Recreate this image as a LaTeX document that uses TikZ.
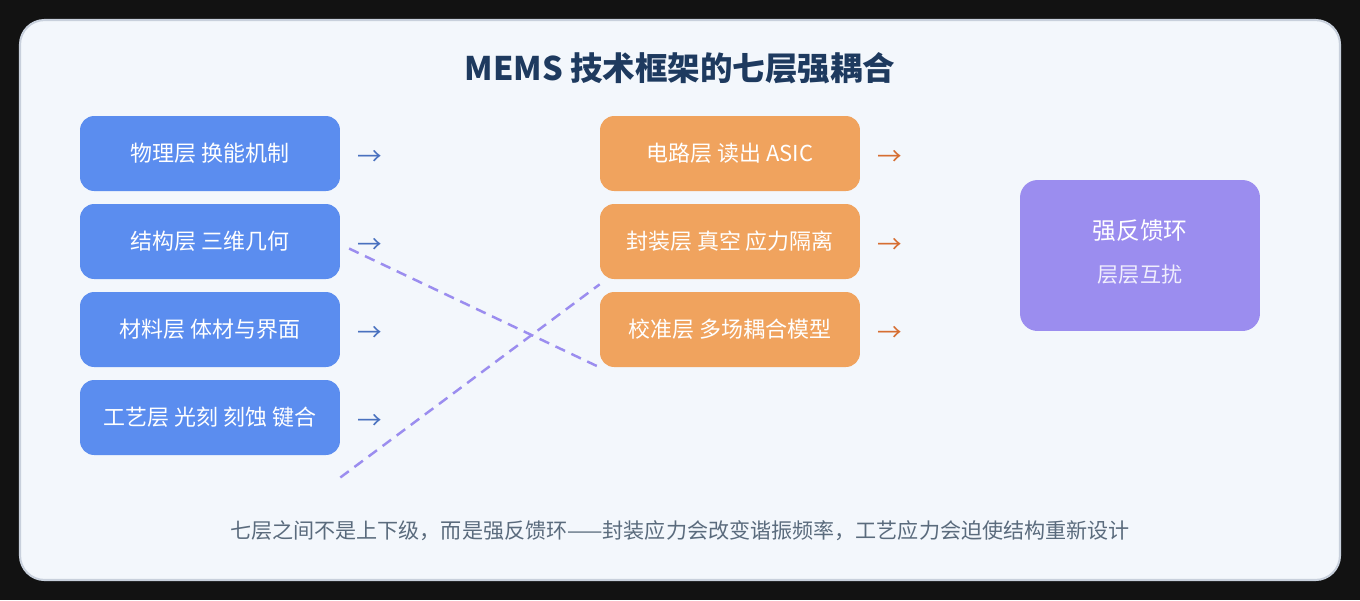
\documentclass[tikz,border=0pt]{standalone}
\usepackage{fontspec}
\setmainfont{Noto Sans CJK SC}
\begin{document}
\begin{tikzpicture}[x=0.02cm,y=-0.02cm,
  box/.style={rounded corners=8pt,minimum width=5.2cm,minimum height=1.5cm,text=white,font=\fontsize{12.5pt}{14pt}\selectfont,inner sep=0pt},
  bl/.style={box,fill=blueb},
  og/.style={box,fill=orangeb},
  arr/.style={font=\fontsize{14pt}{14pt}\selectfont},
  dl/.style={dashed,line width=1.4pt,dash pattern=on 6pt off 4pt,draw=purpleb}]
\definecolor{blueb}{HTML}{5B8DEF}
\definecolor{orangeb}{HTML}{F0A35E}
\definecolor{purpleb}{HTML}{9B8DEF}
\useasboundingbox (0,0) rectangle (1360,600);
\fill[black!93] (0,0) rectangle (1360,600);
\draw[fill={rgb,255:red,243;green,247;blue,252},draw={rgb,255:red,200;green,208;blue,220},line width=1.2pt,rounded corners=14pt] (20,20) rectangle (1340,580);
\node[font=\fontsize{18.5pt}{20pt}\selectfont\bfseries,text={rgb,255:red,30;green,58;blue,95}] (title) at (680,68) {MEMS 技术框架的七层强耦合};
\node[bl] (l1) at (210,153.5) {物理层 换能机制};
\node[bl] (l2) at (210,241.5) {结构层 三维几何};
\node[bl] (l3) at (210,329.5) {材料层 体材与界面};
\node[bl] (l4) at (210,417.5) {工艺层 光刻 刻蚀 键合};
\node[og] (m1) at (730,153.5) {电路层 读出 ASIC};
\node[og] (m2) at (730,241.5) {封装层 真空 应力隔离};
\node[og] (m3) at (730,329.5) {校准层 多场耦合模型};
\node[rounded corners=10pt,fill=purpleb,minimum width=4.8cm,minimum height=3.02cm] (p) at (1140,255.5) {};
\node[text=white,font=\fontsize{13.5pt}{14pt}\selectfont] (p1) at (1140,231) {强反馈环};
\node[text=white!85!purpleb,font=\fontsize{12pt}{14pt}\selectfont] (p2) at (1140,275) {层层互扰};
\foreach \i/\y in {1/158,2/246,3/334,4/422}
  \node[arr,text=blueb!80!black] (a\i) at (370,\y) {→};
\foreach \i/\y in {1/158,2/246,3/334}
  \node[arr,text={rgb,255:red,214;green,110;blue,50}] (b\i) at (890,\y) {→};
\draw[dl] ([xshift=5pt,yshift=-4pt]l2.east) -- (m3.south west);
\draw[dl] ([yshift=-1.2cm]l4.east) ++(0,0) -- ([yshift=-0.1cm]m2.south west);
\node[font=\fontsize{12pt}{14pt}\selectfont,text={rgb,255:red,90;green,107;blue,125}] (cap) at (680,531) {七层之间不是上下级，而是强反馈环——封装应力会改变谐振频率，工艺应力会迫使结构重新设计};
\end{tikzpicture}
\end{document}
